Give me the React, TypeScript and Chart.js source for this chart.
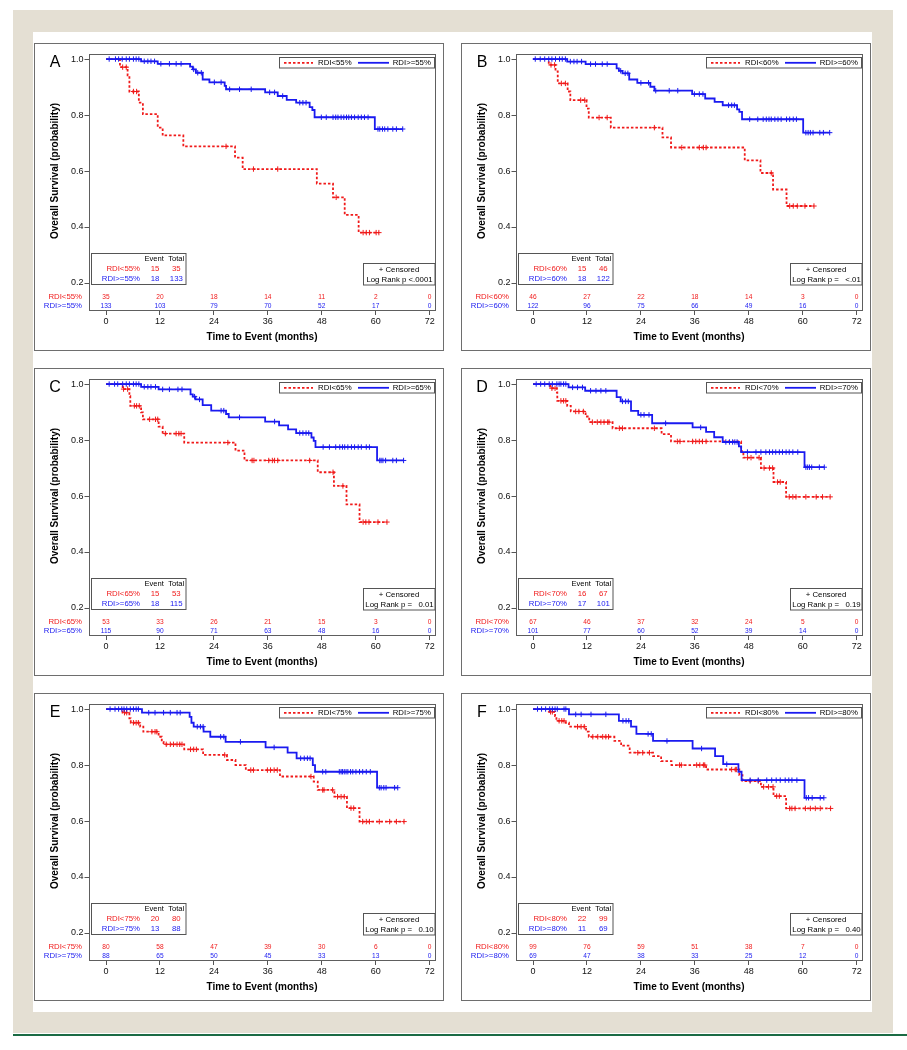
import React, { useEffect, useRef } from 'react';
import { Chart, registerables } from 'chart.js';

Chart.register(...registerables);
const FAMILY = "'Liberation Sans', Arial, Helvetica, sans-serif";
Chart.defaults.font.family = FAMILY;

const RED = '#f01a1a';
const BLUE = '#1a1af0';

const X_TICKS = [0, 12, 24, 36, 48, 60, 72];
const Y_TICKS = [0.2, 0.4, 0.6, 0.8, 1.0];

// ---------- Panel A (RDI 55%) ----------
const A_LO_T = [3.1, 4.8, 5.2, 7.3, 8.2, 11.5, 12.6, 17.2, 28.7, 30.4, 46.9, 50.5, 53.1, 56.2];
const A_LO_S = [0.971, 0.942, 0.884, 0.844, 0.803, 0.755, 0.727, 0.688, 0.648, 0.607, 0.555, 0.506, 0.443, 0.38];
const A_LO_C = [3.7, 4.5, 6.1, 6.8, 26.7, 32.8, 38.2, 51.2, 57.2, 57.9, 58.6, 60.1, 60.7];
const A_HI_T = [7.8, 11.5, 18.7, 19.3, 20.0, 21.5, 23.0, 26.4, 26.7, 35.4, 38.2, 40.2, 42.3, 45.3, 45.9, 46.4, 59.8];
const A_HI_S = [0.992, 0.983, 0.973, 0.963, 0.951, 0.927, 0.917, 0.904, 0.892, 0.881, 0.868, 0.854, 0.844, 0.828, 0.818, 0.792, 0.75];
const A_HI_C = [0.7, 2.1, 2.8, 3.6, 4.5, 5.2, 6.1, 6.7, 7.3, 8.5, 9.3, 10.0, 10.8, 12.2, 14.1, 15.6, 16.7, 19.5, 20.4, 21.2, 24.1, 25.6, 27.5, 29.7, 32.3, 36.4, 37.5, 39.3, 43.1, 43.8, 44.5, 47.9, 49.0, 50.5, 51.1, 51.6, 52.3, 52.9, 53.5, 54.0, 54.6, 55.3, 56.1, 56.8, 57.5, 58.3, 60.5, 60.9, 61.5, 62.0, 62.7, 63.8, 64.6, 66.0];
const A_RISK_LO = [35, 20, 18, 14, 11, 2, 0];
const A_RISK_HI = [133, 103, 79, 70, 52, 17, 0];

// ---------- Panel B (RDI 60%) ----------
const B_LO_T = [3.5, 5.0, 5.5, 7.7, 8.3, 11.9, 12.4, 17.3, 28.8, 30.7, 47.1, 50.6, 53.4, 56.4];
const B_LO_S = [0.979, 0.956, 0.913, 0.884, 0.853, 0.823, 0.791, 0.755, 0.72, 0.684, 0.638, 0.593, 0.534, 0.475];
const B_LO_C = [4.0, 4.8, 6.3, 7.2, 10.6, 11.5, 14.7, 16.5, 27.0, 33.1, 37.0, 37.9, 38.5, 53.0, 57.1, 57.9, 58.8, 60.5, 62.5];
const B_HI_T = [7.6, 11.7, 18.6, 19.1, 19.9, 21.4, 23.2, 26.1, 27.0, 35.4, 38.3, 40.4, 42.2, 45.4, 45.9, 46.5, 60.1];
const B_HI_S = [0.991, 0.982, 0.967, 0.958, 0.949, 0.927, 0.915, 0.901, 0.887, 0.875, 0.859, 0.847, 0.835, 0.82, 0.811, 0.785, 0.737];
const B_HI_C = [0.5, 1.6, 2.6, 3.5, 4.2, 5.0, 5.9, 6.5, 7.2, 8.3, 9.1, 9.8, 10.8, 12.8, 13.9, 15.4, 16.5, 19.5, 20.5, 21.1, 24.0, 25.7, 27.3, 30.3, 32.2, 35.9, 37.0, 37.8, 43.5, 44.2, 44.8, 48.2, 50.0, 51.2, 51.9, 52.5, 53.0, 53.8, 54.5, 55.2, 56.4, 57.1, 57.9, 58.6, 60.7, 61.2, 61.7, 62.3, 63.8, 64.6, 66.0];
const B_RISK_LO = [46, 27, 22, 18, 14, 3, 0];
const B_RISK_HI = [122, 96, 75, 66, 49, 16, 0];

// ---------- Panel C (RDI 65%) ----------
const C_LO_T = [3.7, 5.2, 5.4, 7.8, 8.2, 11.7, 12.6, 17.4, 28.8, 30.8, 47.1, 50.7, 53.5, 56.4];
const C_LO_S = [0.982, 0.957, 0.922, 0.899, 0.874, 0.848, 0.823, 0.791, 0.762, 0.727, 0.685, 0.636, 0.57, 0.507];
const C_LO_C = [3.9, 4.8, 6.3, 6.8, 7.4, 9.7, 11.0, 11.5, 13.2, 15.6, 16.2, 16.7, 27.1, 32.5, 32.9, 36.2, 37.0, 37.5, 38.2, 45.3, 50.5, 52.7, 57.2, 57.8, 58.5, 60.5, 62.5];
const C_HI_T = [7.8, 11.7, 18.8, 19.3, 19.9, 21.5, 23.4, 26.7, 27.3, 35.4, 38.5, 40.5, 42.3, 45.7, 46.2, 46.6, 60.3];
const C_HI_S = [0.99, 0.981, 0.963, 0.955, 0.945, 0.925, 0.905, 0.893, 0.881, 0.866, 0.852, 0.838, 0.825, 0.809, 0.797, 0.775, 0.727];
const C_HI_C = [0.7, 1.9, 2.6, 3.7, 4.5, 5.2, 6.1, 6.7, 7.3, 8.5, 9.3, 10.0, 11.0, 12.6, 14.1, 16.0, 16.9, 19.7, 20.8, 25.6, 26.2, 29.7, 37.5, 43.1, 43.8, 44.5, 45.1, 48.3, 49.7, 51.1, 52.0, 52.6, 53.1, 53.8, 54.6, 55.3, 56.1, 56.8, 57.9, 58.6, 60.9, 61.2, 61.6, 62.2, 63.8, 64.6, 66.2];
const C_RISK_LO = [53, 33, 26, 21, 15, 3, 0];
const C_RISK_HI = [115, 90, 71, 63, 48, 16, 0];

// ---------- Panel D (RDI 70%) ----------
const D_LO_T = [3.8, 5.3, 5.4, 7.6, 8.4, 11.7, 12.5, 17.7, 28.6, 30.7, 46.3, 46.8, 50.7, 53.5, 56.3];
const D_LO_S = [0.985, 0.97, 0.94, 0.922, 0.902, 0.884, 0.864, 0.842, 0.821, 0.795, 0.76, 0.737, 0.7, 0.65, 0.597];
const D_LO_C = [4.2, 4.9, 6.2, 6.8, 7.3, 9.5, 10.2, 11.2, 13.2, 14.3, 15.1, 15.8, 16.6, 16.9, 19.2, 19.9, 27.0, 32.1, 32.7, 35.5, 36.2, 37.0, 37.7, 38.5, 47.7, 48.5, 50.3, 51.4, 52.6, 53.3, 54.4, 55.0, 57.0, 57.8, 58.5, 60.7, 63.0, 64.4, 66.1];
const D_HI_T = [7.9, 11.6, 18.6, 19.5, 21.8, 23.4, 26.5, 35.5, 38.5, 40.3, 42.2, 45.8, 46.3, 60.4];
const D_HI_S = [0.988, 0.976, 0.953, 0.938, 0.904, 0.89, 0.86, 0.845, 0.829, 0.81, 0.793, 0.777, 0.757, 0.703];
const D_HI_C = [0.7, 1.7, 2.6, 3.6, 4.3, 5.3, 5.8, 6.2, 6.8, 7.3, 8.8, 9.9, 11.0, 12.8, 14.0, 15.1, 16.2, 19.9, 20.6, 21.2, 24.0, 24.7, 25.8, 29.5, 37.3, 42.9, 43.7, 44.4, 44.9, 45.4, 47.7, 49.6, 50.7, 51.8, 52.6, 53.3, 54.0, 54.8, 55.5, 56.3, 57.0, 57.8, 58.9, 60.7, 61.1, 61.5, 62.0, 63.7, 64.8];
const D_RISK_LO = [67, 46, 37, 32, 24, 5, 0];
const D_RISK_HI = [101, 77, 60, 52, 39, 14, 0];

// ---------- Panel E (RDI 75%) ----------
const E_LO_T = [3.7, 5.2, 5.5, 7.6, 8.3, 11.7, 12.4, 12.8, 17.4, 21.6, 26.9, 28.8, 31.1, 38.7, 46.2, 47.1, 50.8, 53.6, 56.4];
const E_LO_S = [0.987, 0.967, 0.951, 0.937, 0.919, 0.901, 0.883, 0.874, 0.856, 0.836, 0.818, 0.8, 0.782, 0.759, 0.741, 0.711, 0.687, 0.646, 0.598];
const E_LO_C = [4.1, 4.6, 6.1, 6.7, 7.2, 10.2, 10.9, 11.3, 13.4, 14.3, 15.0, 15.8, 16.4, 16.9, 18.8, 19.5, 20.1, 26.4, 32.2, 32.8, 35.9, 36.6, 37.4, 38.1, 45.6, 48.2, 48.5, 50.4, 51.5, 52.3, 53.0, 54.5, 55.1, 57.1, 57.9, 58.6, 60.8, 63.1, 64.6, 66.3];
const E_HI_T = [8.0, 18.6, 19.0, 19.5, 21.7, 23.2, 26.6, 35.5, 40.4, 42.4, 46.0, 46.5, 60.3];
const E_HI_S = [0.987, 0.972, 0.951, 0.937, 0.919, 0.901, 0.883, 0.863, 0.844, 0.824, 0.8, 0.776, 0.719];
const E_HI_C = [0.9, 2.0, 2.8, 3.5, 4.0, 4.6, 5.4, 6.1, 6.7, 7.2, 9.5, 10.9, 12.8, 14.3, 15.8, 16.5, 20.3, 21.0, 21.6, 25.5, 26.2, 29.9, 37.4, 43.3, 44.1, 44.8, 45.4, 48.2, 48.9, 51.9, 52.3, 52.6, 53.0, 53.4, 53.8, 54.4, 54.9, 55.6, 56.4, 57.1, 57.9, 58.8, 60.8, 61.2, 61.8, 62.3, 64.2, 64.9];
const E_RISK_LO = [80, 58, 47, 39, 30, 6, 0];
const E_RISK_HI = [88, 65, 50, 45, 33, 13, 0];

// ---------- Panel F (RDI 80%) ----------
const F_LO_T = [3.6, 4.9, 5.2, 7.3, 8.0, 11.8, 12.4, 18.1, 19.6, 21.5, 26.7, 28.5, 30.8, 38.5, 45.9, 46.6, 50.7, 53.5, 56.3];
const F_LO_S = [0.99, 0.975, 0.958, 0.951, 0.937, 0.919, 0.901, 0.886, 0.869, 0.844, 0.832, 0.814, 0.8, 0.784, 0.764, 0.743, 0.722, 0.689, 0.645];
const F_LO_C = [3.9, 4.3, 5.8, 6.4, 6.9, 9.9, 10.7, 11.4, 13.3, 14.4, 15.5, 16.2, 16.8, 23.3, 24.4, 25.9, 32.6, 33.0, 36.4, 37.1, 37.9, 38.2, 44.2, 45.0, 45.3, 48.3, 50.1, 51.3, 52.4, 53.4, 54.2, 54.8, 57.1, 57.6, 58.3, 60.6, 61.7, 62.8, 63.9, 66.2];
const F_HI_T = [8.0, 19.1, 21.8, 23.0, 26.7, 35.5, 40.5, 42.3, 45.7, 46.4, 60.4];
const F_HI_S = [0.981, 0.958, 0.937, 0.911, 0.886, 0.859, 0.832, 0.803, 0.776, 0.746, 0.683];
const F_HI_C = [1.0, 1.9, 2.8, 3.7, 4.3, 4.9, 5.4, 6.9, 7.3, 9.5, 10.7, 12.9, 16.2, 20.0, 20.7, 21.3, 25.6, 26.3, 29.8, 37.5, 43.1, 48.3, 50.1, 52.0, 53.1, 54.1, 55.0, 56.1, 56.9, 57.6, 58.7, 60.8, 61.3, 62.1, 63.9, 64.7];
const F_RISK_LO = [99, 76, 59, 51, 38, 7, 0];
const F_RISK_HI = [69, 47, 38, 33, 25, 12, 0];

// ---------- Summary tables ----------
const PANEL_IDS = ['A', 'B', 'C', 'D', 'E', 'F'];
const CUTOFFS = ['55', '60', '65', '70', '75', '80'];
const EVENTS_LO = [15, 15, 15, 16, 20, 22];
const TOTAL_LO = [35, 46, 53, 67, 80, 99];
const EVENTS_HI = [18, 18, 18, 17, 13, 11];
const TOTAL_HI = [133, 122, 115, 101, 88, 69];
const P_TEXT = ['Log Rank p <.0001', 'Log Rank p =   <.01', 'Log Rank p =   0.01', 'Log Rank p =   0.19', 'Log Rank p =   0.10', 'Log Rank p =   0.40'];

const LO = [
  [A_LO_T, A_LO_S, A_LO_C], [B_LO_T, B_LO_S, B_LO_C], [C_LO_T, C_LO_S, C_LO_C],
  [D_LO_T, D_LO_S, D_LO_C], [E_LO_T, E_LO_S, E_LO_C], [F_LO_T, F_LO_S, F_LO_C],
];
const HI = [
  [A_HI_T, A_HI_S, A_HI_C], [B_HI_T, B_HI_S, B_HI_C], [C_HI_T, C_HI_S, C_HI_C],
  [D_HI_T, D_HI_S, D_HI_C], [E_HI_T, E_HI_S, E_HI_C], [F_HI_T, F_HI_S, F_HI_C],
];
const RISK_LO = [A_RISK_LO, B_RISK_LO, C_RISK_LO, D_RISK_LO, E_RISK_LO, F_RISK_LO];
const RISK_HI = [A_RISK_HI, B_RISK_HI, C_RISK_HI, D_RISK_HI, E_RISK_HI, F_RISK_HI];

// layout
const PANEL_W = 410;
const PANEL_H = 308;
const PANEL_POS = [[34, 43], [461, 43], [34, 368], [461, 368], [34, 693], [461, 693]];

function survAt(T: number[], S: number[], t: number) {
  let s = 1;
  for (let k = 0; k < T.length; k++) if (T[k] <= t) s = S[k];
  return s;
}
function stepPts(T: number[], S: number[], C: number[]) {
  const end = Math.max(T[T.length - 1], ...C);
  const pts = [{ x: 0, y: 1 }];
  T.forEach((t, k) => pts.push({ x: t, y: S[k] }));
  pts.push({ x: end, y: S[S.length - 1] });
  return pts;
}
function censPts(T: number[], S: number[], C: number[]) {
  return C.map((c) => ({ x: c, y: survAt(T, S, c) }));
}

const font = (size: number, bold = false) => `${bold ? 'bold ' : ''}${size}px ${FAMILY}`;

function decoPlugin(i: number) {
  const loLab = `RDI<${CUTOFFS[i]}%`;
  const hiLab = `RDI>=${CUTOFFS[i]}%`;
  return {
    id: 'kmDeco',
    afterDraw(chart: any) {
      const { ctx, chartArea: ca, scales } = chart;
      const xs = scales.x;
      const ys = scales.y;
      const text = (s: string, x: number, y: number, f: string, color: string, align: CanvasTextAlign = 'center') => {
        ctx.font = f;
        ctx.fillStyle = color;
        ctx.textAlign = align;
        ctx.textBaseline = 'middle';
        ctx.fillText(s, x, y);
      };
      ctx.save();
      ctx.setLineDash([]);
      ctx.lineWidth = 1;
      // panel border
      ctx.strokeStyle = '#6e6e6e';
      ctx.strokeRect(0.5, 0.5, chart.width - 1, chart.height - 1);
      // plot frame
      ctx.strokeStyle = '#5e5e5e';
      const L = Math.round(ca.left) + 0.5;
      const T = Math.round(ca.top) + 0.5;
      const R = Math.round(ca.right) - 0.5;
      const B = Math.round(ca.bottom) - 0.5;
      ctx.strokeRect(L, T, R - L, B - T);

      // panel letter
      text(PANEL_IDS[i], 21, 19.5, font(16), '#000');
      // axis titles
      ctx.save();
      ctx.translate(21.3, ys.getPixelForValue(0.6));
      ctx.rotate(-Math.PI / 2);
      text('Overall Survival (probability)', 0, 0, font(10, true), '#000');
      ctx.restore();
      text('Time to Event (months)', (ca.left + ca.right) / 2, 294, font(10, true), '#000');

      // legend
      ctx.strokeStyle = '#555';
      ctx.lineWidth = 1;
      ctx.strokeRect(245.5, 14.5, 155, 10.5);
      ctx.beginPath();
      ctx.setLineDash([2.5, 2]);
      ctx.strokeStyle = RED;
      ctx.lineWidth = 1.8;
      ctx.moveTo(250, 19.8);
      ctx.lineTo(279, 19.8);
      ctx.stroke();
      ctx.setLineDash([]);
      ctx.beginPath();
      ctx.strokeStyle = BLUE;
      ctx.moveTo(324, 19.8);
      ctx.lineTo(355, 19.8);
      ctx.stroke();
      text(loLab, 284, 20, font(7.8), '#000', 'left');
      text(hiLab, 358.7, 20, font(7.8), '#000', 'left');

      // event / total box
      ctx.lineWidth = 1;
      ctx.strokeStyle = '#555';
      ctx.strokeRect(57.5, 210.5, 94.5, 31);
      text('Event', 120.2, 216.2, font(7.6), '#000');
      text('Total', 142.2, 216.2, font(7.6), '#000');
      text(loLab, 106, 226.2, font(7.8), RED, 'right');
      text(String(EVENTS_LO[i]), 121, 226.2, font(7.8), RED);
      text(String(TOTAL_LO[i]), 142.3, 226.2, font(7.8), RED);
      text(hiLab, 106, 236.2, font(7.8), BLUE, 'right');
      text(String(EVENTS_HI[i]), 121, 236.2, font(7.8), BLUE);
      text(String(TOTAL_HI[i]), 142.3, 236.2, font(7.8), BLUE);

      // censored / log rank box
      ctx.strokeRect(329.5, 220.5, 71.5, 21.5);
      text('+ Censored', 365, 226.4, font(7.8), '#000');
      text(P_TEXT[i], 365.5, 236.4, font(7.8), '#000');

      // number at risk
      text(loLab, 48, 253.7, font(7.8), RED, 'right');
      text(hiLab, 48, 263.3, font(7.8), BLUE, 'right');
      X_TICKS.forEach((t, k) => {
        const px = xs.getPixelForValue(t);
        text(String(RISK_LO[i][k]), px, 253.7, font(6.6), RED);
        text(String(RISK_HI[i][k]), px, 263.3, font(6.6), BLUE);
      });
      ctx.restore();
    },
  };
}

function buildConfig(i: number): any {
  const [loT, loS, loC] = LO[i];
  const [hiT, hiS, hiC] = HI[i];
  return {
    type: 'line',
    data: {
      datasets: [
        {
          label: 'hiCens', data: censPts(hiT, hiS, hiC), showLine: false,
          pointStyle: 'cross', pointRadius: 2.7, pointBorderWidth: 1,
          borderColor: BLUE, backgroundColor: BLUE, order: 0,
        },
        {
          label: `RDI>=${CUTOFFS[i]}%`, data: stepPts(hiT, hiS, hiC), stepped: 'before',
          borderColor: BLUE, borderWidth: 1.8, pointRadius: 0, fill: false, order: 1,
        },
        {
          label: 'loCens', data: censPts(loT, loS, loC), showLine: false,
          pointStyle: 'cross', pointRadius: 2.7, pointBorderWidth: 1,
          borderColor: RED, backgroundColor: RED, order: 2,
        },
        {
          label: `RDI<${CUTOFFS[i]}%`, data: stepPts(loT, loS, loC), stepped: 'before',
          borderColor: RED, borderWidth: 1.8, borderDash: [2.5, 2], pointRadius: 0, fill: false, order: 3,
        },
      ],
    },
    options: {
      responsive: false,
      animation: false,
      devicePixelRatio: 1,
      events: [],
      layout: { padding: { left: 0, right: 8.5, top: 11, bottom: 0 } },
      plugins: { legend: { display: false }, tooltip: { enabled: false }, title: { display: false } },
      scales: {
        x: {
          type: 'linear', min: -3.9, max: 73.3,
          afterBuildTicks: (s: any) => { s.ticks = X_TICKS.map((v) => ({ value: v })); },
          afterFit: (s: any) => { s.height = 40; },
          grid: { drawOnChartArea: false, drawTicks: true, tickLength: 4, color: '#555', lineWidth: 1 },
          border: { display: false },
          ticks: { font: { size: 9, family: FAMILY }, color: '#111', padding: 1, maxRotation: 0, autoSkip: false, callback: (v: any) => String(v) },
        },
        y: {
          type: 'linear', min: 0.1, max: 1.018,
          afterBuildTicks: (s: any) => { s.ticks = Y_TICKS.map((v) => ({ value: v })); },
          afterFit: (s: any) => { s.width = 54.5; },
          grid: { drawOnChartArea: false, drawTicks: true, tickLength: 4, color: '#555', lineWidth: 1 },
          border: { display: false },
          ticks: { font: { size: 9, family: FAMILY }, color: '#111', padding: 1, autoSkip: false, callback: (v: any) => Number(v).toFixed(1) },
        },
      },
    },
    plugins: [decoPlugin(i)],
  };
}

function KMPanel({ index }: { index: number }) {
  const ref = useRef<HTMLCanvasElement | null>(null);
  useEffect(() => {
    if (!ref.current) return;
    const chart = new Chart(ref.current, buildConfig(index));
    return () => chart.destroy();
  }, [index]);
  const [x, y] = PANEL_POS[index];
  return (
    <canvas
      ref={ref}
      width={PANEL_W}
      height={PANEL_H}
      style={{ position: 'absolute', left: x, top: y, width: PANEL_W, height: PANEL_H, background: '#fff' }}
    />
  );
}

export default function App() {
  return (
    <div style={{ position: 'absolute', left: 0, top: 0, width: 907, height: 1050, background: '#fff', overflow: 'hidden' }}>
      <div style={{ position: 'absolute', left: 13, top: 10, width: 880, height: 1023, background: '#e4dfd3' }} />
      <div style={{ position: 'absolute', left: 33, top: 32, width: 839, height: 980, background: '#fff' }} />
      <div style={{ position: 'absolute', left: 13, top: 1034, width: 894, height: 2, background: '#1b6b44' }} />
      {PANEL_IDS.map((id, i) => (
        <KMPanel key={id} index={i} />
      ))}
    </div>
  );
}
